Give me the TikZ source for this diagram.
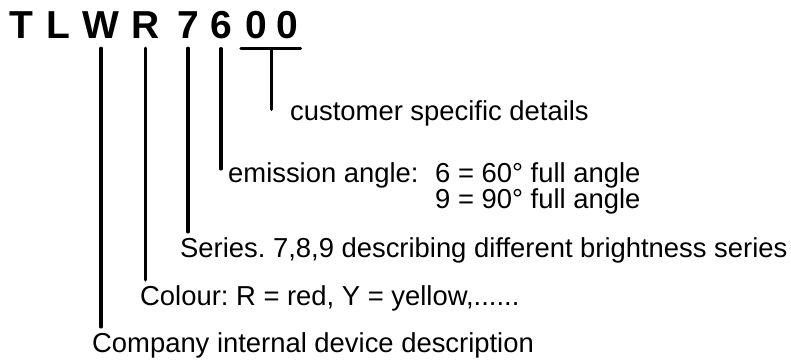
\documentclass[tikz,border=0pt]{standalone}
\usepackage{fontspec}
\setmainfont{Liberation Sans}
\usetikzlibrary{calc}

\begin{document}
\begin{tikzpicture}[
  x=1pt, y=-1pt,
  letter/.style={font=\fontsize{39}{39}\selectfont\bfseries, anchor=base, inner sep=0pt},
  note/.style={font=\fontsize{27.4}{26}\selectfont\frenchspacing, anchor=base west, inner sep=0pt},
  lead/.style={line width=3.2pt, line cap=round},
  drop/.style={lead, shorten >=5pt}
]
\useasboundingbox (0,0) rectangle (791,360);

% type code
\node[letter] (cT) at (21.5,38) {T};
\node[letter] (cL) at (58.5,38) {L};
\node[letter] (cW) at (101,38) {W};
\node[letter] (cR) at (145.5,38) {R};
\node[letter] (cSeven) at (188,38) {7};
\node[letter] (cSix) at (221,38) {6};
\node[letter] (cZa) at (256,38) {0};
\node[letter] (cZb) at (287.5,38) {0};

% descriptions
\node[note] (cust) at (290,120) {customer specific details};
\node[note] (emis) at (228,182) {emission angle:};
\node[note] (angSix) at (435,182) {6 = 60° full angle};
\node[note] (angNine) at (435,208) {9 = 90° full angle};
\node[note] (seri) at (180,257) {Series. 7,8,9 describing different brightness series};
\node[note] (colr) at (140,305) {Colour: R = red, Y = yellow,......};
\node[note] (comp) at (92,352) {Company internal device description};

% leader lines
\coordinate (bar) at ($(cZa.south)!.5!(cZb.south)+(0,10)$);
\draw[lead] ([xshift=-4pt,yshift=-10pt]cZa.south west) -- ([xshift=2pt,yshift=-10pt]cZb.south east);
\draw[lead] (bar) -- ($(bar |- cust.west)+(0,-3.5)$);
\draw[lead] ([yshift=-10pt]cSix.south) -- ($(cSix.south |- emis.west)+(0,-6)$);
\draw[drop] ([yshift=-10pt]cSeven.south) -- (cSeven.south |- seri.north);
\draw[drop] ([yshift=-10pt]cR.south) -- (cR.south |- colr.north);
\draw[drop] ([yshift=-10pt]cW.south) -- (cW.south |- comp.north);
\end{tikzpicture}
\end{document}
